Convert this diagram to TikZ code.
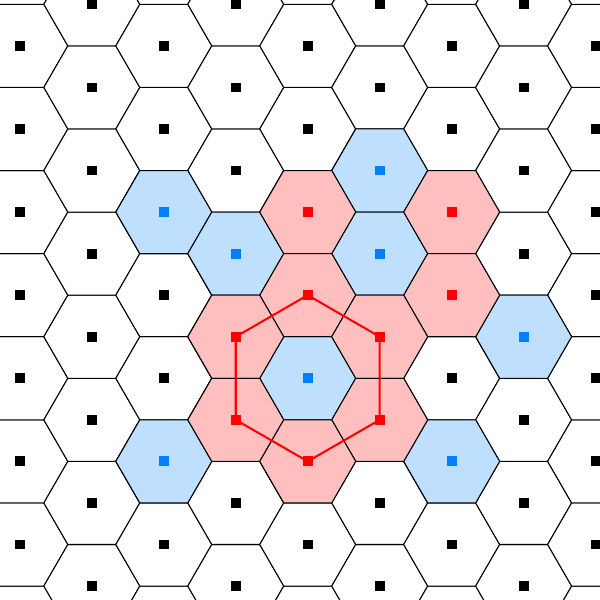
\documentclass[tikz,border=0pt]{standalone}
\usepackage{tikz}
\usetikzlibrary{calc}
\definecolor{cellblue}{RGB}{191,223,255}
\definecolor{dotblue}{RGB}{0,128,255}
\definecolor{cellred}{RGB}{255,191,191}
\definecolor{dotred}{RGB}{255,0,0}
\newcommand{\hexcell}[3]{\filldraw[cell, fill=#3] (#1,#2) ++(0:0.57735)
	-- ++(120:0.57735) -- ++(180:0.57735) -- ++(240:0.57735)
	-- ++(300:0.57735) -- ++(0:0.57735) -- cycle;}
\tikzset{
	cell/.style={draw=black, line width=0.35pt},
	site/.style={rectangle, fill=black, inner sep=0pt, minimum size=0.118cm},
	ring/.style={draw=dotred, line width=0.7pt}
}

\begin{document}
\begin{tikzpicture}
		\useasboundingbox (-3.703,-2.668) rectangle (3.517,4.552);
		\clip (-3.703,-2.668) rectangle (3.517,4.552);
		% plain cells of the lattice
		\foreach \i in {-5,...,5}
			\foreach \j in {-6,...,8}
				{\pgfmathsetmacro\cx{0.866025*\i}
					\pgfmathsetmacro\cy{\j+0.5*\i}
					\hexcell{\cx}{\cy}{white}}
		% blue cells
		\foreach \i/\y in {0/0, -2/2, -1/1.5, 1/2.5, 1/1.5, 3/0.5, -2/-1, 2/-1}
			{\pgfmathsetmacro\cx{0.866025*\i}
				\hexcell{\cx}{\y}{cellblue}}
		% red cells
		\foreach \i/\y in {0/2, 2/2, 0/1, 2/1, -1/0.5, 1/0.5, -1/-0.5, 1/-0.5, 0/-1}
			{\pgfmathsetmacro\cx{0.866025*\i}
				\hexcell{\cx}{\y}{cellred}}
		% ring of neighbours round the centre
		\coordinate (n1) at (0,1);
		\coordinate (n2) at (0.866025,0.5);
		\coordinate (n3) at (0.866025,-0.5);
		\coordinate (n4) at (0,-1);
		\coordinate (n5) at (-0.866025,-0.5);
		\coordinate (n6) at (-0.866025,0.5);
		\draw[ring] (n1) -- (n2) -- (n3) -- (n4) -- (n5) -- (n6) -- cycle;
		% lattice sites
		\foreach \i in {-5,...,5}
			\foreach \j in {-6,...,8}
				{\pgfmathsetmacro\cx{0.866025*\i}
					\pgfmathsetmacro\cy{\j+0.5*\i}
					\node[site] at (\cx,\cy) {};}
		\foreach \i/\y in {0/0, -2/2, -1/1.5, 1/2.5, 1/1.5, 3/0.5, -2/-1, 2/-1}
			{\pgfmathsetmacro\cx{0.866025*\i}
				\node[site, fill=dotblue] at (\cx,\y) {};}
		\foreach \i/\y in {0/2, 2/2, 0/1, 2/1, -1/0.5, 1/0.5, -1/-0.5, 1/-0.5, 0/-1}
			{\pgfmathsetmacro\cx{0.866025*\i}
				\node[site, fill=dotred] at (\cx,\y) {};}
	\end{tikzpicture}
\end{document}
